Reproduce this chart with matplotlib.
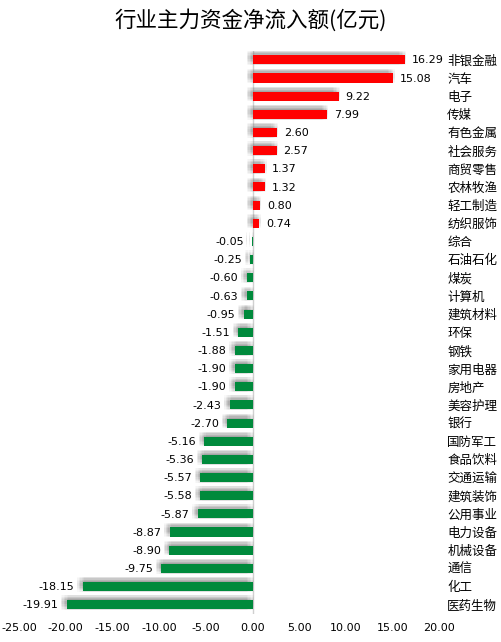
import matplotlib.pyplot as plt
import matplotlib.patheffects as pe
import numpy as np

plt.rcParams['font.family'] = ['Noto Sans CJK SC', 'DejaVu Sans']

industries = ['非银金融', '汽车', '电子', '传媒', '有色金属', '社会服务', '商贸零售',
              '农林牧渔', '轻工制造', '纺织服饰', '综合', '石油石化', '煤炭', '计算机',
              '建筑材料', '环保', '钢铁', '家用电器', '房地产', '美容护理', '银行',
              '国防军工', '食品饮料', '交通运输', '建筑装饰', '公用事业', '电力设备',
              '机械设备', '通信', '化工', '医药生物']
values = [16.29, 15.08, 9.22, 7.99, 2.60, 2.57, 1.37, 1.32, 0.80, 0.74,
          -0.05, -0.25, -0.60, -0.63, -0.95, -1.51, -1.88, -1.90, -1.90, -2.43,
          -2.70, -5.16, -5.36, -5.57, -5.58, -5.87, -8.87, -8.90, -9.75, -18.15,
          -19.91]
xticks = [-25, -20, -15, -10, -5, 0, 5, 10, 15, 20]

vals = np.array(values)
ypos = np.arange(len(vals))
colors = ['#ff0000' if v > 0 else '#008a3c' for v in vals]

fig = plt.figure(figsize=(5.02, 6.42), dpi=100)
ax = fig.add_axes([0.038, 0.044, 0.837, 0.877])

# soft grey shadow, offset up-left (many faint layers to fake a blur)
shadow = []
for dx in np.arange(-4.0, 1.01, 1.0):
    for dy in np.arange(-0.5, 4.01, 1.0):
        shadow.append(pe.SimplePatchShadow(offset=(dx, dy), shadow_rgbFace='#707070', alpha=0.035))
shadow.append(pe.Normal())

bars = ax.barh(ypos, vals, height=0.5, color=colors, zorder=3)
for b in bars:
    b.set_path_effects(shadow)

for y, v in zip(ypos, vals):
    if v > 0:
        ax.annotate(f'{v:.2f}', (v, y), xytext=(5, -0.5), textcoords='offset points',
                    ha='left', va='center', fontsize=8, family='DejaVu Sans')
    else:
        ax.annotate(f'{v:.2f}', (v, y), xytext=(-6, -0.5), textcoords='offset points',
                    ha='right', va='center', fontsize=8, family='DejaVu Sans')

for y, name in zip(ypos, industries):
    ax.annotate(name, (20.85, y), xytext=(0, -1), textcoords='offset points',
                ha='left', va='center', fontsize=9, annotation_clip=False)

ax.axvline(0, color='#d0d0d0', linewidth=1, zorder=2)

ax.set_xlim(-25, 20)
ax.set_ylim(len(vals) - 0.5, -0.5)
ax.set_xticks(xticks)
ax.set_xticklabels([f'{t:.2f}' for t in xticks], fontsize=8, family='DejaVu Sans')
ax.set_yticks([])
ax.tick_params(axis='x', length=0, pad=7)
for s in ax.spines.values():
    s.set_visible(False)

fig.text(0.5, 0.968, '行业主力资金净流入额(亿元)', ha='center', va='center', fontsize=15.5)

fig.savefig('out.png', dpi=100)
